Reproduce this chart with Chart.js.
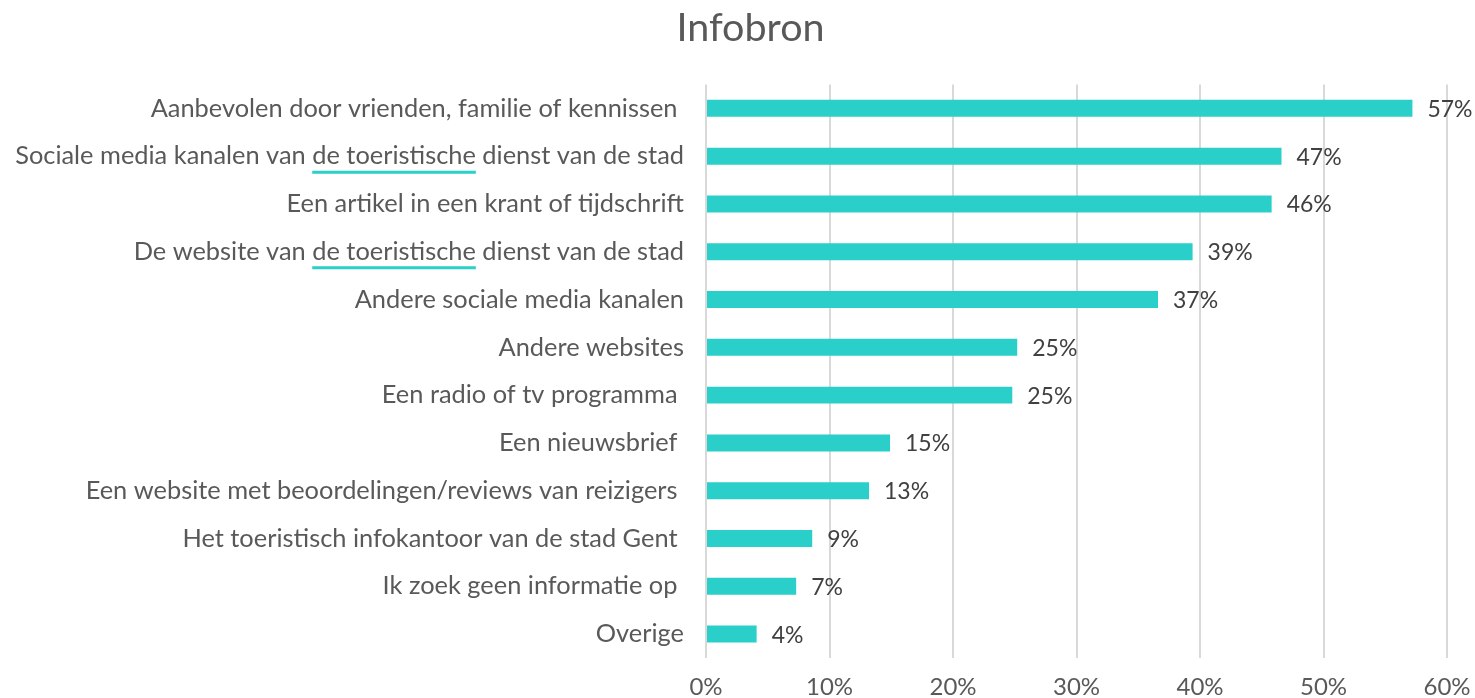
<!DOCTYPE html>
<html>
<head>
<meta charset="utf-8">
<script src="https://cdn.jsdelivr.net/npm/chart.js@4"></script>
<style>
    body { margin: 0; background: #ffffff; }
    #wrap { width: 1475px; height: 698px; }
</style>
</head>
<body>
<div id="wrap"><canvas id="infobronChart"></canvas></div>
<script>

// ==========================
// DATA
// ==========================

const categorieen = [
    "Aanbevolen door vrienden, familie of kennissen ",
    "Sociale media kanalen van de toeristische dienst van de stad",
    "Een artikel in een krant of tijdschrift",
    "De website van de toeristische dienst van de stad",
    "Andere sociale media kanalen",
    "Andere websites",
    "Een radio of tv programma ",
    "Een nieuwsbrief ",
    "Een website met beoordelingen/reviews van reizigers ",
    "Het toeristisch infokantoor van de stad Gent ",
    "Ik zoek geen informatie op ",
    "Overige"
];

const percentages = [57.2, 46.6, 45.8, 39.4, 36.6, 25.2, 24.8, 14.9, 13.2, 8.6, 7.3, 4.1];

const xTicks = [0, 10, 20, 30, 40, 50, 60];

const onderlijnd = "de toeristische";

const FONT = "Lato, 'Open Sans', sans-serif";
const TEAL = "#2ACFC9";
const LABEL_SIZE = 25.4;


// ==========================
// TITEL IETS NAAR RECHTS
// ==========================

const titelVerschuiving = {

    id: "titelVerschuiving",

    afterLayout(chart) {

        if (chart.titleBlock) {
            chart.titleBlock.left += 27;
            chart.titleBlock.right += 27;
        }

    }

};


// ==========================
// LABELS AAN EINDE VAN BALK
// ==========================

const waardeLabels = {

    id: "waardeLabels",

    afterDatasetsDraw(chart) {

        const ctx = chart.ctx;
        const meta = chart.getDatasetMeta(0);

        ctx.save();
        ctx.font = "23px " + FONT;
        ctx.fillStyle = "#404040";
        ctx.textAlign = "left";
        ctx.textBaseline = "middle";

        meta.data.forEach((bar, i) => {
            ctx.fillText(
                Math.round(percentages[i]) + "%",
                bar.x + 15,
                bar.y + 1
            );
        });

        ctx.restore();

    }

};


// ==========================
// ONDERLIJNING "de toeristische"
// ==========================

const onderlijning = {

    id: "onderlijning",

    afterDraw(chart) {

        const ctx = chart.ctx;
        const yScale = chart.scales.y;
        const rechts = yScale.right - yScale.options.ticks.padding;

        ctx.save();
        ctx.font = LABEL_SIZE + "px " + FONT;
        ctx.strokeStyle = TEAL;
        ctx.lineWidth = 3;

        categorieen.forEach((label, i) => {

            const pos = label.indexOf(onderlijnd);
            if (pos < 0) return;

            const totaal = ctx.measureText(label).width;
            const start = rechts - totaal + ctx.measureText(label.slice(0, pos)).width;
            const breedte = ctx.measureText(onderlijnd).width;
            const y = yScale.getPixelForTick(i) + 16;

            ctx.beginPath();
            ctx.moveTo(start, y);
            ctx.lineTo(start + breedte, y);
            ctx.stroke();

        });

        ctx.restore();

    }

};


// ==========================
// GRAFIEK
// ==========================

new Chart(document.getElementById("infobronChart"), {

    type: "bar",

    data: {

        labels: categorieen,

        datasets: [
            {
                data: percentages,
                backgroundColor: TEAL,
                borderWidth: 0,
                barPercentage: 0.71,
                categoryPercentage: 0.5
            }
        ]

    },

    plugins: [titelVerschuiving, waardeLabels, onderlijning],

    options: {

        indexAxis: "y",
        responsive: true,
        maintainAspectRatio: false,
        animation: false,

        layout: {
            padding: { top: 0, right: 28, bottom: 0, left: 0 }
        },

        plugins: {

            legend: { display: false },
            tooltip: { enabled: false },

            title: {
                display: true,
                text: "Infobron",
                color: "#595959",
                font: { family: FONT, size: 39.5, weight: "normal", lineHeight: 1.1 },
                padding: { top: 7, bottom: 34 }
            }

        },

        scales: {

            x: {
                min: 0,
                max: 60,
                afterBuildTicks(scale) {
                    scale.ticks = xTicks.map(v => ({ value: v }));
                },
                afterFit(scale) {
                    scale.height = 40;
                    scale.paddingRight = 28;
                },
                grid: {
                    color: "#d9d9d9",
                    lineWidth: 2,
                    drawTicks: false
                },
                border: { display: false },
                ticks: {
                    padding: 17,
                    color: "#595959",
                    font: { family: FONT, size: 24, lineHeight: 1 },
                    callback: v => v + "%"
                }
            },

            y: {
                grid: { display: false, drawTicks: false },
                border: { display: false },
                afterFit(scale) {
                    scale.width = 706;
                },
                ticks: {
                    padding: 22,
                    color: "#595959",
                    autoSkip: false,
                    font: { family: FONT, size: LABEL_SIZE }
                }
            }

        }

    }

});

</script>
</body>
</html>
